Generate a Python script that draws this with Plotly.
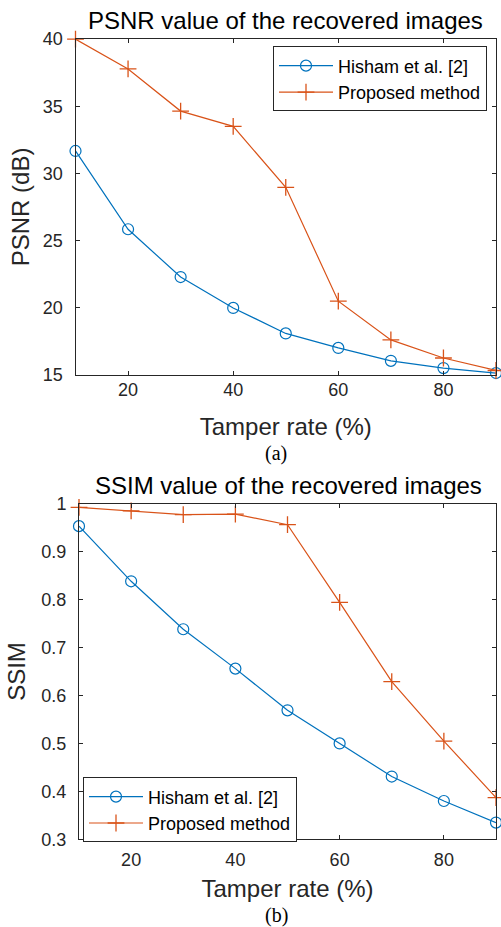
import plotly.graph_objects as go

tamper_rate = [10, 20, 30, 40, 50, 60, 70, 80, 90]
psnr_hisham = [31.67, 25.84, 22.28, 19.98, 18.08, 17.0, 16.04, 15.5, 15.13]
psnr_proposed = [40.0, 37.78, 34.64, 33.5, 28.96, 20.48, 17.6, 16.25, 15.32]
ssim_hisham = [0.953, 0.838, 0.738, 0.656, 0.569, 0.500, 0.431, 0.380, 0.335]
ssim_proposed = [0.992, 0.985, 0.977, 0.978, 0.956, 0.794, 0.629, 0.505, 0.387]
series_names = ["Hisham et al. [2]", "Proposed method"]
x_ticks = [20, 40, 60, 80]
psnr_ticks = [15, 20, 25, 30, 35, 40]
ssim_ticks = [0.3, 0.4, 0.5, 0.6, 0.7, 0.8, 0.9, 1.0]
ssim_tick_text = ["0.3", "0.4", "0.5", "0.6", "0.7", "0.8", "0.9", "1"]

BLUE = "#0072BD"
ORANGE = "#D95319"
AX = "#262626"
W = 501
FIG_H = 951
SANS = "Liberation Sans, Arial"
SERIF = "Liberation Serif, Times New Roman"

fig = go.Figure()

def add_pair(y1, y2, xa, ya, legend):
    fig.add_trace(go.Scatter(
        x=tamper_rate, y=y1, name=series_names[0], mode="lines+markers",
        line=dict(color=BLUE, width=1.2),
        marker=dict(symbol="circle-open", size=11, color=BLUE, line=dict(width=1.2, color=BLUE)),
        xaxis=xa, yaxis=ya, legend=legend, cliponaxis=False))
    fig.add_trace(go.Scatter(
        x=tamper_rate, y=y2, name=series_names[1], mode="lines+markers",
        line=dict(color=ORANGE, width=1.2),
        marker=dict(symbol="cross-thin", size=12, color=ORANGE, line=dict(width=1.3, color=ORANGE)),
        xaxis=xa, yaxis=ya, legend=legend, cliponaxis=False))

add_pair(psnr_hisham, psnr_proposed, "x", "y", "legend")
add_pair(ssim_hisham, ssim_proposed, "x2", "y2", "legend2")

def px_x(p):
    return p / W

def px_y(p):
    # map a target picture row to a paper fraction of the page
    return 1 - ((p - 11.7) / 0.975) / FIG_H

axis_common = dict(
    showline=True, linecolor=AX, linewidth=1, mirror="allticks",
    ticks="inside", ticklen=4, tickcolor=AX, tickwidth=1,
    showgrid=False, zeroline=False,
    tickfont=dict(family=SANS, size=18, color=AX),
)
title_font = dict(family=SANS, size=24, color=AX)
legend_common = dict(bgcolor="white", bordercolor=AX, borderwidth=1,
                     font=dict(family=SANS, size=18, color="black"),
                     tracegroupgap=0, itemwidth=54)

fig.update_layout(
    width=W, height=FIG_H,
    margin=dict(l=0, r=0, t=0, b=0),
    paper_bgcolor="white", plot_bgcolor="white",
    showlegend=True,
    xaxis=dict(domain=[px_x(75.5), px_x(496)], anchor="y", range=[10, 90],
               tickvals=x_ticks, ticklabelstandoff=-1, **axis_common,
               title=dict(text="Tamper rate (%)", standoff=18, font=title_font)),
    yaxis=dict(domain=[px_y(375), px_y(40.7)], anchor="x", range=[15, 40],
               tickvals=psnr_ticks, ticklabelstandoff=8, **axis_common,
               title=dict(text="PSNR (dB)", standoff=6, font=title_font)),
    xaxis2=dict(domain=[px_x(79), px_x(496)], anchor="y2", range=[10, 90],
                tickvals=x_ticks, ticklabelstandoff=4, **axis_common,
                title=dict(text="Tamper rate (%)", standoff=11, font=title_font)),
    yaxis2=dict(domain=[px_y(837.7), px_y(503.3)], anchor="x2", range=[0.3, 1.0],
                tickvals=ssim_ticks, ticktext=ssim_tick_text, ticklabelstandoff=8, **axis_common,
                title=dict(text="SSIM", standoff=8, font=title_font)),
    legend=dict(x=px_x(487), y=px_y(48), xanchor="right", yanchor="top", **legend_common),
    legend2=dict(x=px_x(83), y=px_y(776), xanchor="left", yanchor="top", **legend_common),
    annotations=[
        dict(text="PSNR value of the recovered images", x=px_x(285), y=px_y(22),
             xref="paper", yref="paper", showarrow=False, xanchor="center", yanchor="middle",
             font=dict(family=SANS, size=24, color="black")),
        dict(text="SSIM value of the recovered images", x=px_x(288), y=px_y(485),
             xref="paper", yref="paper", showarrow=False, xanchor="center", yanchor="middle",
             font=dict(family=SANS, size=24, color="black")),
        dict(text="(a)", x=px_x(276), y=px_y(453.5),
             xref="paper", yref="paper", showarrow=False, xanchor="center", yanchor="middle",
             font=dict(family=SERIF, size=20, color="black")),
        dict(text="(b)", x=px_x(276), y=px_y(914),
             xref="paper", yref="paper", showarrow=False, xanchor="center", yanchor="middle",
             font=dict(family=SERIF, size=20, color="black")),
    ],
)

fig.write_html("out.html", config={"displayModeBar": False},
               post_script="document.body.style.margin='0';document.body.style.overflow='hidden';")
